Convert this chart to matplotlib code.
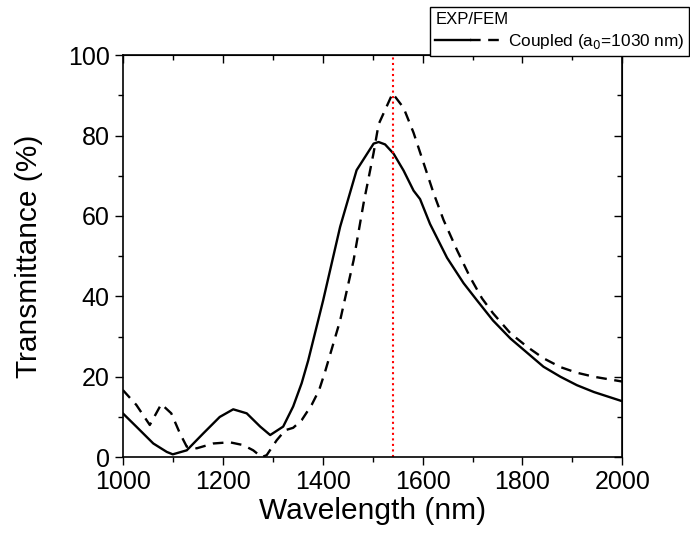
import numpy as np
import matplotlib
matplotlib.use("Agg")
import matplotlib.pyplot as plt
from matplotlib.ticker import MultipleLocator
from matplotlib.legend_handler import HandlerTuple

plt.rcParams['font.family'] = ['Liberation Sans', 'DejaVu Sans']

# EXP curve (solid)
wl_exp = [1000, 1027, 1061, 1088, 1100, 1128, 1161, 1194, 1221, 1248, 1275, 1295,
          1321, 1341, 1358, 1371, 1401, 1435, 1468, 1502, 1512, 1525, 1542,
          1562, 1582, 1595, 1615, 1649, 1682, 1709, 1741, 1776, 1810, 1842,
          1876, 1909, 1943, 2000]
t_exp = [10.9, 7.6, 3.4, 1.3, 0.7, 1.7, 5.9, 10.0, 11.9, 10.9, 7.6, 5.5,
         7.6, 12.6, 18.4, 24.0, 39.0, 57.3, 71.4, 78.0, 78.4, 77.8, 75.5,
         71.3, 66.3, 64.2, 58.0, 49.6, 43.3, 39.0, 34.0, 29.5, 25.9, 22.5,
         20.0, 17.9, 16.2, 13.9]

# FEM coupled curve (dashed)
wl_fem = [1000, 1027, 1054, 1077, 1097, 1114, 1128, 1148, 1181, 1214, 1241, 1261,
          1278, 1288, 1308, 1325, 1341, 1358, 1378, 1393, 1405, 1435, 1462,
          1482, 1502, 1512, 1540, 1562, 1582, 1602, 1622, 1642, 1669, 1695,
          1719, 1741, 1776, 1810, 1842, 1876, 1909, 1943, 2000]
t_fem = [16.7, 13.0, 8.0, 13.2, 10.9, 6.0, 2.6, 2.2, 3.4, 3.7, 3.0, 1.7,
         0.0, 0.5, 4.2, 6.7, 7.3, 9.2, 13.0, 16.7, 21.3, 34.0, 49.0,
         63.2, 75.7, 82.8, 90.5, 86.9, 80.7, 73.2, 65.7, 59.0, 51.5, 44.8,
         39.5, 35.8, 30.8, 27.4, 24.6, 22.4, 21.0, 20.0, 18.8]

marker_wl = 1540

fig = plt.figure(figsize=(6.9, 5.41), dpi=100)
ax = fig.add_axes([0.178, 0.155, 0.724, 0.743])

l1, = ax.plot(wl_exp, t_exp, color='black', lw=1.7)
l2, = ax.plot(wl_fem, t_fem, color='black', lw=1.7, ls=(0, (4.5, 3.2)))
ax.axvline(marker_wl, color='red', ls=':', lw=1.5)

ax.set_xlim(1000, 2000)
ax.set_ylim(0, 100)
ax.xaxis.set_major_locator(MultipleLocator(200))
ax.xaxis.set_minor_locator(MultipleLocator(100))
ax.yaxis.set_major_locator(MultipleLocator(20))
ax.yaxis.set_minor_locator(MultipleLocator(10))
ax.tick_params(which='both', direction='out', labelsize=18, width=1)
ax.tick_params(which='major', length=6)
ax.tick_params(which='minor', length=3.5)
for spine in ax.spines.values():
    spine.set_linewidth(1.2)

# mirrored ticks on top/right pointing inward
axt = ax.secondary_xaxis('top')
axt.xaxis.set_major_locator(MultipleLocator(200))
axt.xaxis.set_minor_locator(MultipleLocator(100))
axt.tick_params(which='both', direction='in', labeltop=False, width=1)
axt.tick_params(which='major', length=6)
axt.tick_params(which='minor', length=3.5)
axr = ax.secondary_yaxis('right')
axr.yaxis.set_major_locator(MultipleLocator(20))
axr.yaxis.set_minor_locator(MultipleLocator(10))
axr.tick_params(which='both', direction='in', labelright=False, width=1)
axr.tick_params(which='major', length=6)
axr.tick_params(which='minor', length=3.5)

ax.set_xlabel('Wavelength (nm)', fontsize=21.5)
ax.set_ylabel('Transmittance (%)', fontsize=21.5)
ax.xaxis.set_label_coords(0.5, -0.1)
ax.yaxis.set_label_coords(-0.16, 0.5)

leg = fig.legend([(l1, l2)], ['Coupled (a$_0$=1030 nm)'],
                 handler_map={tuple: HandlerTuple(ndivide=None, pad=0)},
                 title='EXP/FEM', title_fontsize=12, fontsize=12.4,
                 loc='lower left', bbox_to_anchor=(430 / 690, 1 - 56 / 541),
                 handlelength=4.1, handletextpad=0.1, borderpad=0.3,
                 labelspacing=0.3, borderaxespad=0,
                 fancybox=False, framealpha=1, edgecolor='black')
leg._legend_box.align = 'left'
leg.get_frame().set_linewidth(1.0)

fig.savefig('out.png', dpi=100)
